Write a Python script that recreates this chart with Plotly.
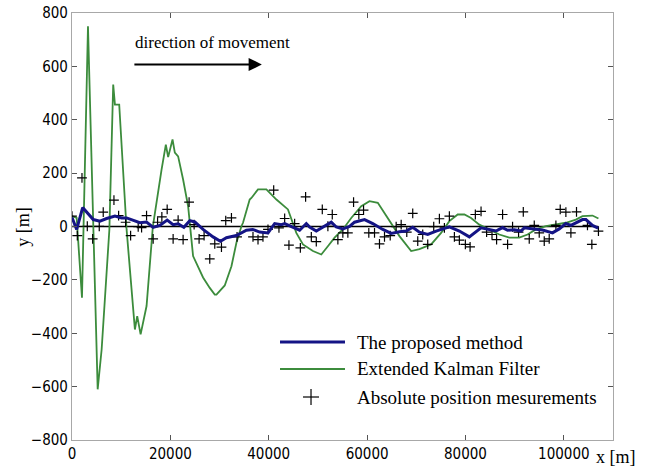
import plotly.graph_objects as go

# Proposed method (smoothed estimate) - lateral deviation along the route
proposed_x = [0, 950, 2170, 4320, 5680, 7040, 8730, 10090, 11100, 12440, 13800, 15160,
              16500, 17860, 19350, 20560, 21580, 22740, 23950, 24970, 26650, 28680, 30180,
              31400, 33430, 35460, 36740, 38160, 39850, 41210, 42570, 43240, 44920, 46280,
              47640, 48310, 49670, 51010, 52720, 53730, 55070, 56430, 57450, 59480, 61160,
              63190, 64900, 66580, 67940, 69280, 70640, 72330, 74030, 76730, 78760, 80790,
              83170, 86210, 87550, 88570, 89930, 91290, 91960, 94330, 95670, 97700, 99060,
              100420, 101440, 103800, 104490, 105820, 106980]
proposed_y = [34, -11, 71, 26, 20, 30, 39, 32, 32, 24, 14, 17,
              -3, 4, 24, 7, 10, -3, 22, 17, -11, -39, -55,
              -42, -34, -14, -11, -21, -24, 11, 7, 11, -2, -14,
              11, -2, -17, -2, 16, -2, -9, 0, 16, 26, 11,
              -11, -26, -20, -17, -3, -21, -30, -17, -1, -17, -39,
              -5, -17, -4, -14, -12, -17, -5, -10, -13, -24, -9,
              11, 4, 26, 26, 4, -6]

# Extended Kalman Filter estimate
ekf_x = [0, 950, 2030, 3250, 5220, 6030, 7600, 8380, 8730, 9600, 11100, 12790, 13260,
         13950, 15160, 16440, 18210, 19080, 19550, 20440, 20910, 21580, 22590, 23610,
         24620, 26650, 28010, 29030, 29370, 30040, 31060, 32420, 33430, 34450, 34770,
         36130, 36480, 37820, 39520, 41560, 43910, 45610, 46960, 48990, 50690, 52030,
         53390, 55070, 56780, 58810, 60490, 62180, 63880, 65220, 66580, 68960, 70640,
         73020, 75050, 76730, 78420, 79780, 81140, 82820, 84850, 86880, 88910, 90940,
         92630, 94330, 96360, 98390, 100420, 102450, 103800, 105820, 107040]
ekf_y = [39, 32, -267, 750, -610, -460, -11, 532, 457, 457, -11, -386, -336,
         -404, -298, 0, 213, 307, 260, 326, 277, 263, 176, 76,
         -111, -191, -230, -255, -255, -240, -221, -149, -61, 1, 14,
         101, 107, 139, 139, 101, 64, -24, -67, -92, -105, -74,
         -42, -11, 32, 76, 95, 89, 39, 0, -36, -92, -85,
         -67, -24, 20, 45, 45, 32, 7, -11, -30, -42, -42,
         -30, -11, 1, 7, 14, 26, 39, 41, 30]

# Absolute position measurements
meas_x = [0, 1080, 2030, 3110, 4200, 5540, 6350, 8530, 9480, 10900, 11920, 13460, 14150,
          15160, 16500, 17400, 18270, 19350, 20560, 21580, 22590, 23810, 24830, 25840,
          26860, 28010, 29030, 30390, 31260, 32420, 33560, 36800, 37820, 38830, 39850,
          41010, 42080, 43240, 44110, 45270, 46430, 47500, 48660, 49670, 50890, 52030,
          52920, 54060, 55070, 56090, 57250, 58320, 59280, 60350, 61510, 62520, 63540,
          64700, 65910, 66930, 68070, 69280, 70300, 71310, 72330, 73550, 74700, 75720,
          76730, 77750, 78760, 79980, 80940, 82010, 83170, 84300, 85400, 86330, 87550,
          88570, 89580, 90800, 91760, 92970, 93990, 95000, 96020, 97030, 98390, 99270,
          100420, 101440, 102580, 104810, 105700, 107040]
meas_y = [39, -34, 182, 1, -46, 1, 54, 99, 41, 16, -34, -1, -4,
          41, -46, 16, 36, 64, -46, 24, -49, 91, 7, -46,
          -34, -121, -65, -77, 22, 32, -39, -39, -49, -39, -11,
          136, -5, 30, -70, 11, -80, 111, -39, -57, 64, 1,
          45, -49, -24, -24, 91, 45, 61, -24, -24, -65, -39,
          -34, -1, 7, -21, 49, -55, -30, -67, -1, 29, -5,
          39, -39, -51, -67, -76, 45, 57, -21, -30, -49, 45,
          -67, -1, -21, 55, -46, 4, -24, -55, -46, 4, 64,
          54, -24, 55, 4, -67, -17]

# True route (straight line along y = 0)
route_x = [0, 107000]
route_y = [0, 0]

x_ticks = [0, 20000, 40000, 60000, 80000, 100000]
y_ticks = [-800, -600, -400, -200, 0, 200, 400, 600, 800]

legend_names = ["The proposed method", "Extended Kalman Filter", "Absolute position mesurements"]

BLUE = "#141485"
GREEN = "#3c8c3c"
SERIF = "Liberation Serif, Times New Roman, serif"
NARROW = "Liberation Sans Narrow, DejaVu Sans Condensed, Liberation Sans, sans-serif"

fig = go.Figure()
fig.add_trace(go.Scatter(x=route_x, y=route_y, mode="lines",
                         line=dict(color="black", width=1.6), showlegend=False))
fig.add_trace(go.Scatter(x=ekf_x, y=ekf_y, mode="lines", name=legend_names[1],
                         line=dict(color=GREEN, width=1.8), showlegend=False))
fig.add_trace(go.Scatter(x=meas_x, y=meas_y, mode="markers", name=legend_names[2],
                         marker=dict(symbol="cross-thin", size=7,
                                     line=dict(color="black", width=1.2)),
                         showlegend=False))
fig.add_trace(go.Scatter(x=proposed_x, y=proposed_y, mode="lines", name=legend_names[0],
                         line=dict(color=BLUE, width=3), showlegend=False))

axis_common = dict(showline=True, linecolor="#a8a8a8", linewidth=1.2, mirror="ticks",
                   ticks="inside", ticklen=5, tickcolor="#555555", tickwidth=1,
                   showgrid=False, zeroline=False, automargin=False,
                   tickfont=dict(family=NARROW, size=15, color="black"))

fig.update_xaxes(range=[0, 110000], tickvals=x_ticks, tickformat="d", **axis_common)
fig.update_yaxes(range=[-800, 800], tickvals=y_ticks, **axis_common)

# Hand-drawn legend in the lower right of the plot area
shapes = [
    dict(type="line", xref="paper", yref="paper", x0=0.3845, x1=0.5046, y0=0.2295, y1=0.2295,
         line=dict(color=BLUE, width=3)),
    dict(type="line", xref="paper", yref="paper", x0=0.3845, x1=0.5046, y0=0.1663, y1=0.1663,
         line=dict(color=GREEN, width=1.8)),
    dict(type="line", xref="paper", yref="paper", x0=0.4270, x1=0.4566, y0=0.1007, y1=0.1007,
         line=dict(color="black", width=1.2)),
    dict(type="line", xref="paper", yref="paper", x0=0.4418, x1=0.4418, y0=0.0820, y1=0.1194,
         line=dict(color="black", width=1.2)),
]
annotations = []
for name, ly in zip(legend_names, [0.2295, 0.1663, 0.1007]):
    annotations.append(dict(xref="paper", yref="paper", x=0.523, y=ly, text=name,
                            showarrow=False, xanchor="left", yanchor="middle",
                            font=dict(family=SERIF, size=19, color="black")))

# Direction-of-movement arrow and caption
annotations.append(dict(x=38600, y=607, ax=12380, ay=607, xref="x", yref="y",
                        axref="x", ayref="y", text="", showarrow=True,
                        arrowhead=2, arrowsize=1.2, arrowwidth=2.2, arrowcolor="black"))
annotations.append(dict(x=12380, y=690, xref="x", yref="y", text="direction of movement",
                        showarrow=False, xanchor="left", yanchor="middle",
                        font=dict(family=SERIF, size=17, color="black")))

# Axis titles
annotations.append(dict(xref="paper", yref="paper", x=-0.092, y=0.5, text="y [m]",
                        textangle=-90, showarrow=False, xanchor="center", yanchor="middle",
                        font=dict(family=SERIF, size=18, color="black")))
annotations.append(dict(xref="paper", yref="paper", x=0.965, y=-0.012, text="x [m]",
                        showarrow=False, xanchor="left", yanchor="top",
                        font=dict(family=SERIF, size=18, color="black")))

fig.update_layout(width=651, height=466, margin=dict(l=72, r=38, t=13, b=26),
                  paper_bgcolor="white", plot_bgcolor="white",
                  shapes=shapes, annotations=annotations, showlegend=False)

fig.write_html("out.html")
